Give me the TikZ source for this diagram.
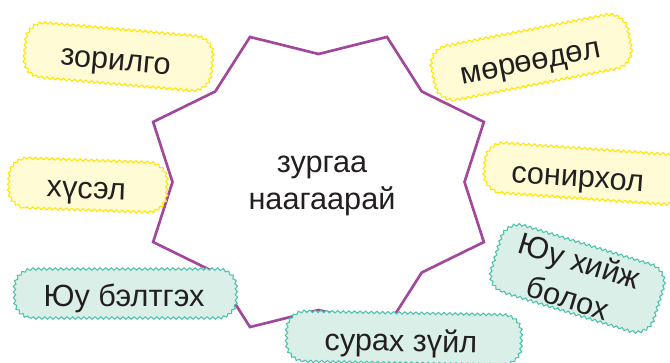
\documentclass[tikz,border=0pt]{standalone}
\usepackage{fontspec}
\setmainfont{Liberation Sans}
\usetikzlibrary{decorations.pathmorphing}
\definecolor{wishfill}{HTML}{FFFBD4}
\definecolor{wishline}{HTML}{FFE500}
\definecolor{planfill}{HTML}{D9EFE8}
\definecolor{planline}{HTML}{4DC3AE}
\definecolor{starline}{HTML}{A1489D}
\definecolor{ink}{HTML}{231F20}
\tikzset{
  tag/.style={line width=0.8pt, decorate,
    decoration={snake, amplitude=0.9pt, segment length=4.2pt}},
  wishtag/.style={tag, fill=wishfill, draw=wishline},
  plantag/.style={tag, fill=planfill, draw=planline},
  tagtext/.style={text=ink, inner sep=0pt, align=center, font=\fontsize{23}{29}\selectfont},
  oneline/.style={text height=20pt, text depth=0pt},
  % half width, half height, look
  pics/tagframe/.style n args={3}{code={
    \draw[#3] (-#1+14pt,-#2) -- (#1-14pt,-#2)
      arc[start angle=-90, end angle=0, radius=14pt] -- (#1,#2-14pt)
      arc[start angle=0, end angle=90, radius=14pt] -- (-#1+14pt,#2)
      arc[start angle=90, end angle=180, radius=14pt] -- (-#1,-#2+14pt)
      arc[start angle=180, end angle=270, radius=14pt] -- cycle;
  }},
}
\begin{document}
\begin{tikzpicture}[x=0.75pt, y=-0.75pt]
  \useasboundingbox (0,0) rectangle (670,363);

  % Star
  \draw[starline, line width=2pt, shift={(318.5,182)}]
    (0:146 and 128)
    \foreach \a in {0,45,...,315} { -- (\a+22.5:179 and 157) -- (\a+45:146 and 128) } -- cycle;
  \node[text=ink, align=center, font=\fontsize{23}{28}\selectfont] (theme) at (322,186) {зургаа\\наагаарай};

  % Wishes
  \pic[rotate=-5] at (117,56.5) {tagframe={70.5pt}{20.6pt}{wishtag}};
  \node[tagtext, oneline, rotate=-5] (goal) at (116,56.5) {зорилго};
  \pic[rotate=11] at (530,57.5) {tagframe={75pt}{20.6pt}{wishtag}};
  \node[tagtext, oneline, rotate=11] (dream) at (530,57.5) {мөрөөдөл};
  \pic[rotate=-2] at (86.5,185) {tagframe={59.25pt}{18.75pt}{wishtag}};
  \node[tagtext, oneline, rotate=-2] (wish) at (86.5,185) {хүсэл};
  \pic[rotate=-4] at (583,173.5) {tagframe={75pt}{18.75pt}{wishtag}};
  \node[tagtext, oneline, rotate=-4] (interest) at (578,173.5) {сонирхол};

  % Plans
  \pic at (124,293.5) {tagframe={83.25pt}{18.4pt}{plantag}};
  \node[tagtext, oneline] (prepare) at (124,293.5) {Юу бэлтгэх};
  \pic[rotate=-17] at (576,278) {tagframe={63.75pt}{26.25pt}{plantag}};
  \node[tagtext, rotate=-17] (cando) at (574,279) {Юу хийж\\болох};
  \pic[rotate=-1] at (402.5,338) {tagframe={88.1pt}{18.75pt}{plantag}};
  \node[tagtext, oneline, rotate=-1] (learn) at (401,338) {сурах зүйл};
\end{tikzpicture}
\end{document}
